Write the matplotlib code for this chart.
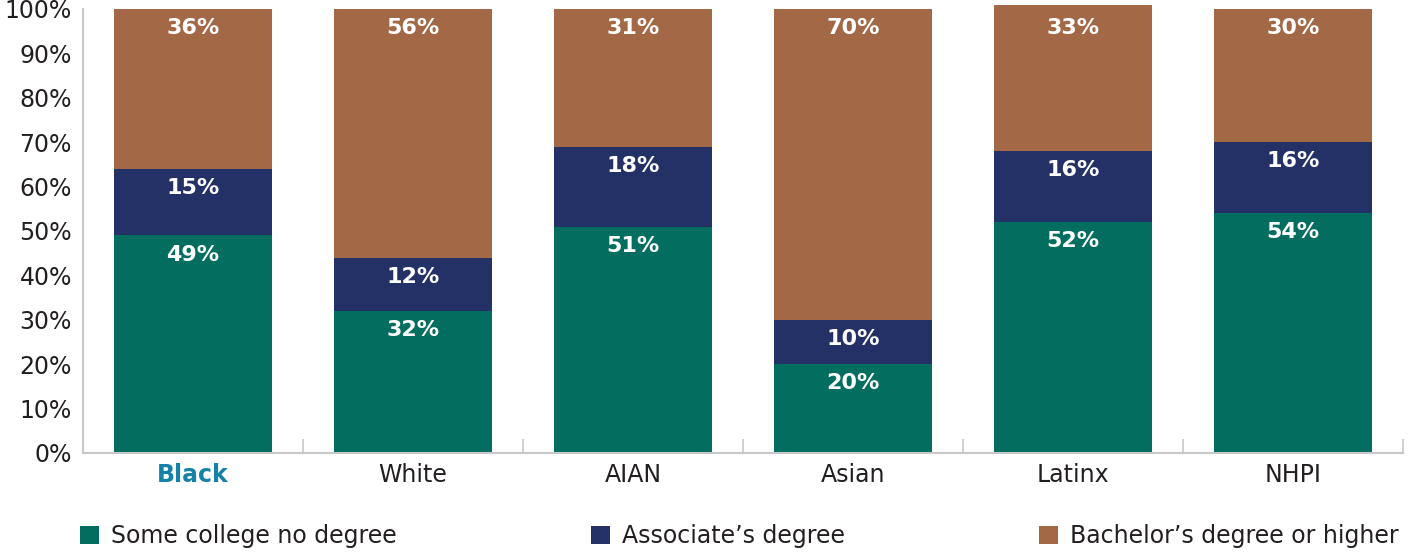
import numpy as np
import matplotlib.pyplot as plt
from matplotlib.patches import Patch
from matplotlib.ticker import FixedLocator

groups = ["Black", "White", "AIAN", "Asian", "Latinx", "NHPI"]
some_college = [49, 32, 51, 20, 52, 54]
associate = [15, 12, 18, 10, 16, 16]
bachelor = [36, 56, 31, 70, 33, 30]
series_names = ["Some college no degree", "Associate\u2019s degree", "Bachelor\u2019s degree or higher"]

colors = ["#036E5F", "#233166", "#A36845"]
text_color = "#231F20"
spine_color = "#C8C8C8"

plt.rcParams["font.family"] = ["DejaVu Sans"]

fig = plt.figure(figsize=(14.08, 5.54), dpi=100)
ax = fig.add_axes([83 / 1408, 1 - 453 / 554, 1320 / 1408, 444 / 554])

x = np.arange(len(groups))
bottom = np.zeros(len(groups))
for vals, col in zip([some_college, associate, bachelor], colors):
    vals = np.array(vals, dtype=float)
    ax.bar(x, vals, bottom=bottom, width=0.72, color=col, clip_on=False, zorder=2)
    tops = bottom + vals
    for xi, top, v in zip(x, tops, vals):
        ax.text(xi, min(top, 100) - 4.3, f"{int(v)}%", ha="center", va="center",
                color="white", fontsize=16, fontweight="bold", zorder=3)
    bottom = tops

ax.set_xlim(-0.5, len(groups) - 0.5)
ax.set_ylim(0, 100)
ax.set_yticks(np.arange(0, 101, 10))
ax.set_yticklabels([f"{v}%" for v in range(0, 101, 10)])
ax.tick_params(axis="y", length=0, pad=8, labelsize=17, labelcolor=text_color)

ax.set_xticks(x)
ax.set_xticklabels(groups)
ax.tick_params(axis="x", which="major", length=0, pad=7, labelsize=17, labelcolor=text_color)
ax.xaxis.set_minor_locator(FixedLocator(np.arange(0.5, len(groups), 1.0)))
ax.tick_params(axis="x", which="minor", direction="in", length=10, color=spine_color, width=1.2)
lbl = ax.get_xticklabels()[0]
lbl.set_color("#1582A6")
lbl.set_fontweight("bold")

for s in ["top", "right"]:
    ax.spines[s].set_visible(False)
for s in ["left", "bottom"]:
    ax.spines[s].set_color(spine_color)
    ax.spines[s].set_linewidth(1.5)

handles = [Patch(facecolor=c, edgecolor="none", label=n) for c, n in zip(colors, series_names)]
fig.legend(handles=handles, loc="center", ncol=3, frameon=False,
           bbox_to_anchor=(0.05, 0.0, 0.95, 0.065), mode="expand",
           fontsize=17, labelcolor=text_color, handlelength=0.8, handleheight=0.8,
           handletextpad=0.5, borderaxespad=0)

fig.savefig("out.png", dpi=100)
